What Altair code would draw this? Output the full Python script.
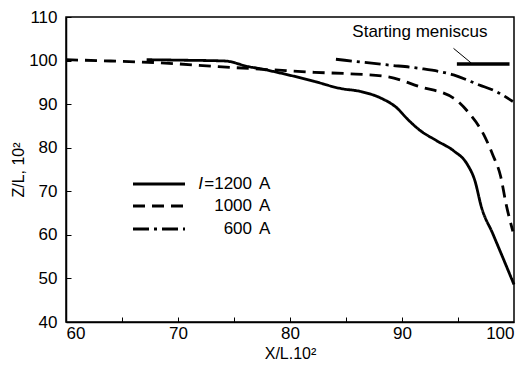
import altair as alt
import pandas as pd

# ---- data ----
x_1200 = [67.2, 70.0, 74.2, 76.3, 77.2, 79.2, 82.2, 84.5, 86.3, 88.1, 89.6, 90.4, 91.6, 93.1, 94.6, 95.8, 96.5, 97.1, 98.1, 100.0]
z_1200 = [100.2, 100.1, 99.9, 98.6, 98.2, 97.1, 95.2, 93.6, 92.9, 91.4, 89.0, 86.8, 84.0, 81.6, 79.3, 76.3, 72.5, 66.3, 60.3, 48.6]

x_1000 = [60.0, 64.0, 68.3, 73.6, 78.3, 82.2, 85.1, 88.7, 91.6, 94.6, 96.0, 97.3, 98.1, 98.8, 99.3, 99.9]
z_1000 = [100.2, 99.9, 99.5, 98.6, 97.9, 97.3, 97.0, 96.3, 94.0, 91.4, 87.9, 83.0, 78.4, 73.5, 67.0, 60.8]

x_600 = [84.1, 88.7, 91.6, 94.6, 96.9, 98.4, 99.9]
z_600 = [100.3, 99.0, 98.2, 96.7, 94.4, 92.9, 90.6]

series_names = ["1200", "1000", "600"]
legend_numbers = ["=1200", "1000", "600"]

meniscus_x = [94.9, 99.6]
meniscus_z = [99.2, 99.2]
leader_x = [94.6, 96.2]
leader_z = [102.8, 99.4]
meniscus_label = "Starting meniscus"
meniscus_label_pos = [91.6, 106.6]

x_labels = [60, 70, 80, 90, 100]
x_ticks = [65, 70, 75, 80, 85, 90, 95]
y_labels = [40, 50, 60, 70, 80, 90, 100, 110]

FONT = "Liberation Sans"
W, H = 448, 305

rows = []
for name, xs_, zs_ in zip(series_names, [x_1200, x_1000, x_600], [z_1200, z_1000, z_600]):
    for i, (a, b) in enumerate(zip(xs_, zs_)):
        rows.append({"series": name, "X": a, "Z": b, "idx": i})
df = pd.DataFrame(rows)

xsc = alt.Scale(domain=[60, 100], nice=False, zero=False)
ysc = alt.Scale(domain=[40, 110], nice=False, zero=False)

lines = alt.Chart(df).mark_line(color="black", strokeWidth=2.8, interpolate="monotone").encode(
    x=alt.X("X:Q", scale=xsc, axis=alt.Axis(values=x_labels, title="X/L.10²", ticks=False,
                                            labelFontSize=17, labelPadding=3, titleFontSize=16,
                                            titlePadding=4, titleFontWeight="normal")),
    y=alt.Y("Z:Q", scale=ysc, axis=alt.Axis(values=y_labels, title="Z/L, 10²", ticks=False,
                                            labelFontSize=17, labelPadding=9, titleFontSize=16,
                                            titlePadding=2, titleFontWeight="normal")),
    strokeDash=alt.StrokeDash("series:N", scale=alt.Scale(domain=series_names,
                              range=[[1, 0], [12, 7], [16, 5, 3, 5]]), legend=None),
    order="idx:Q",
)

men_df = pd.DataFrame({"x": [meniscus_x[0]], "x2": [meniscus_x[1]], "z": [meniscus_z[0]]})
meniscus = alt.Chart(men_df).mark_rule(color="black", strokeWidth=3.5).encode(
    x=alt.X("x:Q", scale=xsc, axis=alt.Axis(orient="top", offset=-H, values=x_ticks, labels=False,
                                            domain=False, ticks=True, tickSize=5, tickColor="black",
                                            title=None, grid=False)),
    x2="x2:Q",
    y=alt.Y("z:Q", scale=ysc, axis=alt.Axis(orient="right", offset=-W, values=y_labels, labels=False,
                                            domain=False, ticks=True, tickSize=5, tickColor="black",
                                            title=None, grid=False)),
)

lead_df = pd.DataFrame({"x": leader_x, "z": leader_z})
leader = alt.Chart(lead_df).mark_line(color="black", strokeWidth=1).encode(
    x=alt.X("x:Q", scale=xsc, axis=None),
    y=alt.Y("z:Q", scale=ysc, axis=None),
)

lab_df = pd.DataFrame({"x": [meniscus_label_pos[0]], "z": [meniscus_label_pos[1]], "t": [meniscus_label]})
label = alt.Chart(lab_df).mark_text(font=FONT, fontSize=17, color="black").encode(
    x=alt.X("x:Q", scale=xsc, axis=None),
    y=alt.Y("z:Q", scale=ysc, axis=None),
    text="t:N",
)

# manual legend
leg_layers = []
dashes = [[1, 0], [12, 7], [16, 5, 3, 5]]
row_y = [167, 189, 212]
base = alt.Chart(pd.DataFrame({"a": [0]}))
for i in range(3):
    leg_layers.append(base.mark_rule(color="black", strokeWidth=3, strokeDash=dashes[i]).encode(
        x=alt.value(67), x2=alt.value(119), y=alt.value(row_y[i])))
    leg_layers.append(base.mark_text(font=FONT, fontSize=17, align="right", baseline="middle", color="black").encode(
        x=alt.value(186), y=alt.value(row_y[i]), text=alt.value(legend_numbers[i])))
    leg_layers.append(base.mark_text(font=FONT, fontSize=17, align="left", baseline="middle", color="black").encode(
        x=alt.value(193), y=alt.value(row_y[i]), text=alt.value("A")))
leg_layers.append(base.mark_text(font=FONT, fontSize=17, align="right", baseline="middle", fontStyle="italic", color="black").encode(
    x=alt.value(137), y=alt.value(row_y[0]), text=alt.value("I")))

chart = alt.layer(lines, meniscus, leader, label, *leg_layers).resolve_scale(
    x="independent", y="independent"
).properties(
    width=W, height=H,
    autosize=alt.AutoSizeParams(type="none"),
    padding={"left": 58, "top": 9, "right": 10, "bottom": 40},
).configure_view(
    stroke="black", strokeWidth=1.5
).configure_axis(
    domainColor="black", domainWidth=1.5, labelColor="black", titleColor="black",
    labelFont=FONT, titleFont=FONT, grid=False
).configure_text(font=FONT)

chart.save("out.html", embed_options={"renderer": "svg", "actions": False})
